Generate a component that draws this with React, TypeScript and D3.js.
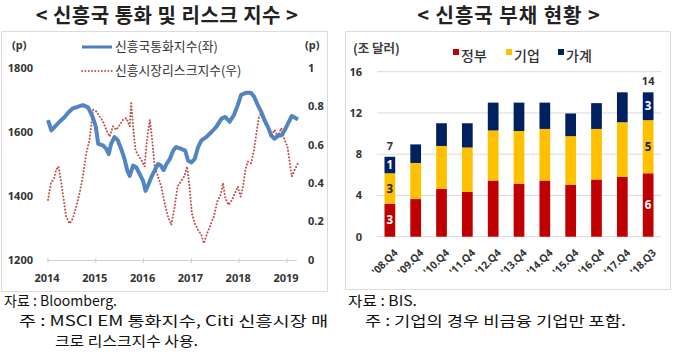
import React from "react";
import * as d3 from "d3";

// ---------- Left chart data ----------
const fxDates = [2014.0, 2014.07, 2014.14, 2014.24, 2014.35, 2014.42, 2014.52, 2014.63, 2014.73, 2014.84, 2014.94, 2015.0, 2015.05, 2015.15, 2015.22, 2015.27, 2015.32, 2015.39, 2015.46, 2015.53, 2015.6, 2015.66, 2015.71, 2015.78, 2015.85, 2015.92, 2015.99, 2016.04, 2016.09, 2016.16, 2016.23, 2016.3, 2016.36, 2016.42, 2016.48, 2016.55, 2016.62, 2016.68, 2016.79, 2016.87, 2016.93, 2017.0, 2017.07, 2017.14, 2017.21, 2017.31, 2017.42, 2017.52, 2017.63, 2017.71, 2017.8, 2017.89, 2017.97, 2018.04, 2018.15, 2018.24, 2018.31, 2018.39, 2018.46, 2018.53, 2018.6, 2018.67, 2018.74, 2018.81, 2018.88, 2018.95, 2019.02, 2019.1, 2019.16, 2019.23];
const fxValues = [1637, 1605, 1616, 1632, 1647, 1660, 1674, 1679, 1684, 1677, 1645, 1616, 1563, 1558, 1547, 1531, 1563, 1584, 1574, 1547, 1516, 1479, 1463, 1495, 1489, 1468, 1447, 1416, 1432, 1458, 1479, 1500, 1495, 1481, 1500, 1516, 1542, 1553, 1547, 1542, 1511, 1505, 1516, 1553, 1574, 1584, 1600, 1616, 1642, 1647, 1632, 1653, 1684, 1716, 1723, 1723, 1711, 1684, 1663, 1637, 1616, 1589, 1579, 1589, 1589, 1605, 1626, 1650, 1645, 1639];

const riskDates = [2014.0, 2014.06, 2014.13, 2014.17, 2014.22, 2014.28, 2014.33, 2014.38, 2014.45, 2014.52, 2014.59, 2014.66, 2014.73, 2014.8, 2014.87, 2014.94, 2015.01, 2015.08, 2015.15, 2015.22, 2015.29, 2015.36, 2015.43, 2015.5, 2015.57, 2015.64, 2015.71, 2015.74, 2015.78, 2015.83, 2015.88, 2015.95, 2016.02, 2016.07, 2016.13, 2016.18, 2016.23, 2016.3, 2016.37, 2016.44, 2016.51, 2016.58, 2016.65, 2016.71, 2016.78, 2016.85, 2016.91, 2016.96, 2017.01, 2017.07, 2017.14, 2017.21, 2017.26, 2017.33, 2017.4, 2017.47, 2017.54, 2017.61, 2017.66, 2017.71, 2017.78, 2017.85, 2017.91, 2017.97, 2018.03, 2018.08, 2018.13, 2018.18, 2018.25, 2018.31, 2018.36, 2018.41, 2018.46, 2018.53, 2018.6, 2018.67, 2018.74, 2018.81, 2018.88, 2018.95, 2019.01, 2019.06, 2019.1, 2019.16, 2019.23];
const riskValues = [0.313, 0.4, 0.426, 0.47, 0.487, 0.4, 0.313, 0.226, 0.19, 0.217, 0.278, 0.348, 0.435, 0.556, 0.626, 0.783, 0.774, 0.748, 0.722, 0.678, 0.643, 0.696, 0.678, 0.704, 0.73, 0.739, 0.696, 0.817, 0.696, 0.574, 0.548, 0.522, 0.487, 0.626, 0.73, 0.626, 0.487, 0.435, 0.383, 0.296, 0.226, 0.183, 0.278, 0.383, 0.409, 0.435, 0.487, 0.383, 0.243, 0.19, 0.157, 0.13, 0.087, 0.139, 0.183, 0.226, 0.304, 0.339, 0.4, 0.322, 0.287, 0.313, 0.348, 0.383, 0.33, 0.383, 0.47, 0.513, 0.504, 0.574, 0.661, 0.739, 0.765, 0.713, 0.696, 0.643, 0.678, 0.643, 0.687, 0.626, 0.591, 0.504, 0.435, 0.47, 0.504];

const yearTicks = [2014, 2015, 2016, 2017, 2018, 2019];
const leftTicks = [1200, 1400, 1600, 1800];
const rightTicks = [0, 0.2, 0.4, 0.6, 0.8, 1];

// ---------- Right chart data ----------
const periods = ["'08.Q4", "'09.Q4", "'10.Q4", "'11.Q4", "'12.Q4", "'13.Q4", "'14.Q4", "'15.Q4", "'16.Q4", "'17.Q4", "'18.Q3"];
const govDebt = [3.2, 3.65, 4.65, 4.35, 5.45, 5.15, 5.45, 5.05, 5.55, 5.8, 6.15];
const corpDebt = [2.95, 3.5, 4.15, 4.3, 4.85, 5.1, 5.0, 4.7, 4.9, 5.3, 5.15];
const hhDebt = [1.6, 1.8, 2.2, 2.35, 2.7, 2.75, 2.55, 2.2, 2.5, 2.9, 2.7];
const debtTicks = [0, 4, 8, 12, 16];
// labelled values shown on first and last bars
const labelIdx = [0, 10];
const govLabels = ["3", "6"];
const corpLabels = ["3", "5"];
const hhLabels = ["1", "3"];
const totalLabels = ["7", "14"];

const seriesNames = ["정부", "기업", "가계"];
const seriesColors = ["#C00000", "#FFC000", "#002060"];

const KFONT = "'Noto Sans CJK KR', 'Noto Sans', sans-serif";
const NFONT = "'Noto Sans', 'Noto Sans CJK KR', sans-serif";
const FFONT = "'Liberation Sans Narrow', 'Noto Sans CJK KR', sans-serif";

export default function App() {
  const x = d3.scaleLinear().domain([2014, 2019]).range([48, 287]);
  const yL = d3.scaleLinear().domain([1200, 1800]).range([260, 68]);
  const yR = d3.scaleLinear().domain([0, 1]).range([260, 68]);

  const fxLine = d3
    .line<number>()
    .x((_, i) => x(fxDates[i]))
    .y((d) => yL(d))(fxValues) as string;
  const riskLine = d3
    .line<number>()
    .x((_, i) => x(riskDates[i]))
    .y((d) => yR(d))(riskValues) as string;

  const xb = d3.scaleBand<string>().domain(periods).range([377, 661]).paddingInner(0.585).paddingOuter(0.29);
  const yb = d3.scaleLinear().domain([0, 16]).range([236.7, 71.7]);

  const stacked = d3
    .stack<any>()
    .keys(["gov", "corp", "hh"])(periods.map((p, i) => ({ p, gov: govDebt[i], corp: corpDebt[i], hh: hhDebt[i] })));

  const axisText = { fontFamily: NFONT, fontWeight: 700, fontSize: 11, fill: "#333" } as const;

  return (
    <svg width={680} height={359} style={{ position: "absolute", left: 0, top: 0, background: "#fff" }}>
      <rect x={0} y={0} width={680} height={359} fill="#fff" />
      {/* Titles */}
      <text x={167} y={23} textAnchor="middle" fontFamily={KFONT} fontWeight={700} fontSize={20} letterSpacing={0.5} fill="#222">
        {"< 신흥국 통화 및 리스크 지수 >"}
      </text>
      <text x={509} y={23} textAnchor="middle" fontFamily={KFONT} fontWeight={700} fontSize={20} letterSpacing={1} fill="#222">
        {"< 신흥국 부채 현황 >"}
      </text>

      {/* Panel frames */}
      <rect x={1.5} y={31.5} width={326} height={260} fill="none" stroke="#dcdcdc" />
      <rect x={345.5} y={31.5} width={325} height={258} fill="none" stroke="#dcdcdc" />

      {/* ---------- Left chart ---------- */}
      <text x={12} y={49} fontFamily={NFONT} fontWeight={700} fontSize={11} fill="#333">(p)</text>
      <text x={305} y={49} fontFamily={NFONT} fontWeight={700} fontSize={11} fill="#333">(p)</text>
      {leftTicks.map((t) => (
        <text key={t} x={33} y={yL(t)} dy="0.35em" textAnchor="end" {...axisText}>
          {t}
        </text>
      ))}
      {rightTicks.map((t) => (
        <text key={t} x={308} y={yR(t)} dy="0.35em" textAnchor="start" {...axisText}>
          {t}
        </text>
      ))}
      <line x1={47} x2={297} y1={260.5} y2={260.5} stroke="#d0d0d0" />
      {yearTicks.map((t) => (
        <g key={t}>
          <line x1={x(t)} x2={x(t)} y1={258} y2={263} stroke="#d0d0d0" />
          <text x={x(t) - 1} y={278} dy="0.35em" textAnchor="middle" {...axisText}>
            {t}
          </text>
        </g>
      ))}
      <path d={riskLine} fill="none" stroke="#C0504D" strokeWidth={2} strokeDasharray="0.1 3.2" strokeLinecap="round" />
      <path d={fxLine} fill="none" stroke="#4A7EBF" strokeWidth={4} strokeLinejoin="round" opacity={0.95} />

      {/* Legend left */}
      <line x1={82} x2={112} y1={47} y2={47} stroke="#4A7EBF" strokeWidth={3} />
      <text x={115} y={47} dy="0.35em" fontFamily={KFONT} fontSize={12.8} fill="#333">신흥국통화지수(좌)</text>
      <line x1={82} x2={112} y1={71} y2={71} stroke="#C0504D" strokeWidth={1.8} strokeDasharray="0.1 3.2" strokeLinecap="round" />
      <text x={115} y={71} dy="0.35em" fontFamily={KFONT} fontSize={12.8} fill="#333">신흥시장리스크지수(우)</text>

      {/* ---------- Right chart ---------- */}
      <text x={353} y={53} fontFamily={KFONT} fontWeight={700} fontSize={12.5} fill="#404040">(조 달러)</text>
      {seriesNames.map((n, i) => {
        const lx = [453, 506, 558][i];
        return (
          <g key={n}>
            <rect x={lx} y={49} width={6} height={6} fill={seriesColors[i]} />
            <text x={lx + 8} y={61} fontFamily={KFONT} fontWeight={500} fontSize={14} fill="#333">{n}</text>
          </g>
        );
      })}
      {debtTicks.map((t) => (
        <g key={t}>
          <line x1={377} x2={661} y1={yb(t)} y2={yb(t)} stroke="#d9d9d9" />
          <text x={362} y={yb(t)} dy="0.35em" textAnchor="end" {...axisText}>
            {t}
          </text>
        </g>
      ))}
      {stacked.map((s, si) => (
        <g key={si} fill={seriesColors[si]}>
          {s.map((d, i) => (
            <rect
              key={i}
              x={xb(periods[i])}
              y={yb(d[1])}
              width={xb.bandwidth()}
              height={yb(d[0]) - yb(d[1])}
            />
          ))}
        </g>
      ))}
      {labelIdx.map((bi, k) => {
        const cx = (xb(periods[bi]) as number) + xb.bandwidth() / 2;
        const segs = [govLabels[k], corpLabels[k], hhLabels[k]];
        return (
          <g key={bi}>
            {segs.map((lab, si) => {
              const d = stacked[si][bi];
              return (
                <text
                  key={si}
                  x={cx}
                  y={(yb(d[0]) + yb(d[1])) / 2}
                  dy="0.35em"
                  textAnchor="middle"
                  fontFamily={NFONT}
                  fontWeight={700}
                  fontSize={11.5}
                  fill={si === 1 ? "#222" : "#fff"}
                >
                  {lab}
                </text>
              );
            })}
            <text x={cx} y={yb(stacked[2][bi][1]) - 11} dy="0.35em" textAnchor="middle" {...axisText}>
              {totalLabels[k]}
            </text>
          </g>
        );
      })}
      {periods.map((p) => {
        const cx = (xb(p) as number) + xb.bandwidth() / 2;
        return (
          <text
            key={p}
            transform={`translate(${cx + 6},${251}) rotate(-45)`}
            dy="0.35em"
            textAnchor="end"
            fontFamily={NFONT}
            fontWeight={700}
            fontSize={10.5}
            fill="#333"
          >
            {p}
          </text>
        );
      })}

      {/* ---------- Footnotes ---------- */}
      <g fontFamily={FFONT} fontSize={14} fill="#111">
        <text x={4} y={306} textLength={113} lengthAdjust="spacingAndGlyphs">자료 : Bloomberg.</text>
        <text x={19} y={326} textLength={309} lengthAdjust="spacingAndGlyphs">주 : MSCI EM 통화지수, Citi 신흥시장 매</text>
        <text x={55} y={346} textLength={143} lengthAdjust="spacingAndGlyphs">크로 리스크지수 사용.</text>
        <text x={348} y={306} textLength={69} lengthAdjust="spacingAndGlyphs">자료 : BIS.</text>
        <text x={365} y={326} textLength={261} lengthAdjust="spacingAndGlyphs">주 : 기업의 경우 비금융 기업만 포함.</text>
      </g>
    </svg>
  );
}
